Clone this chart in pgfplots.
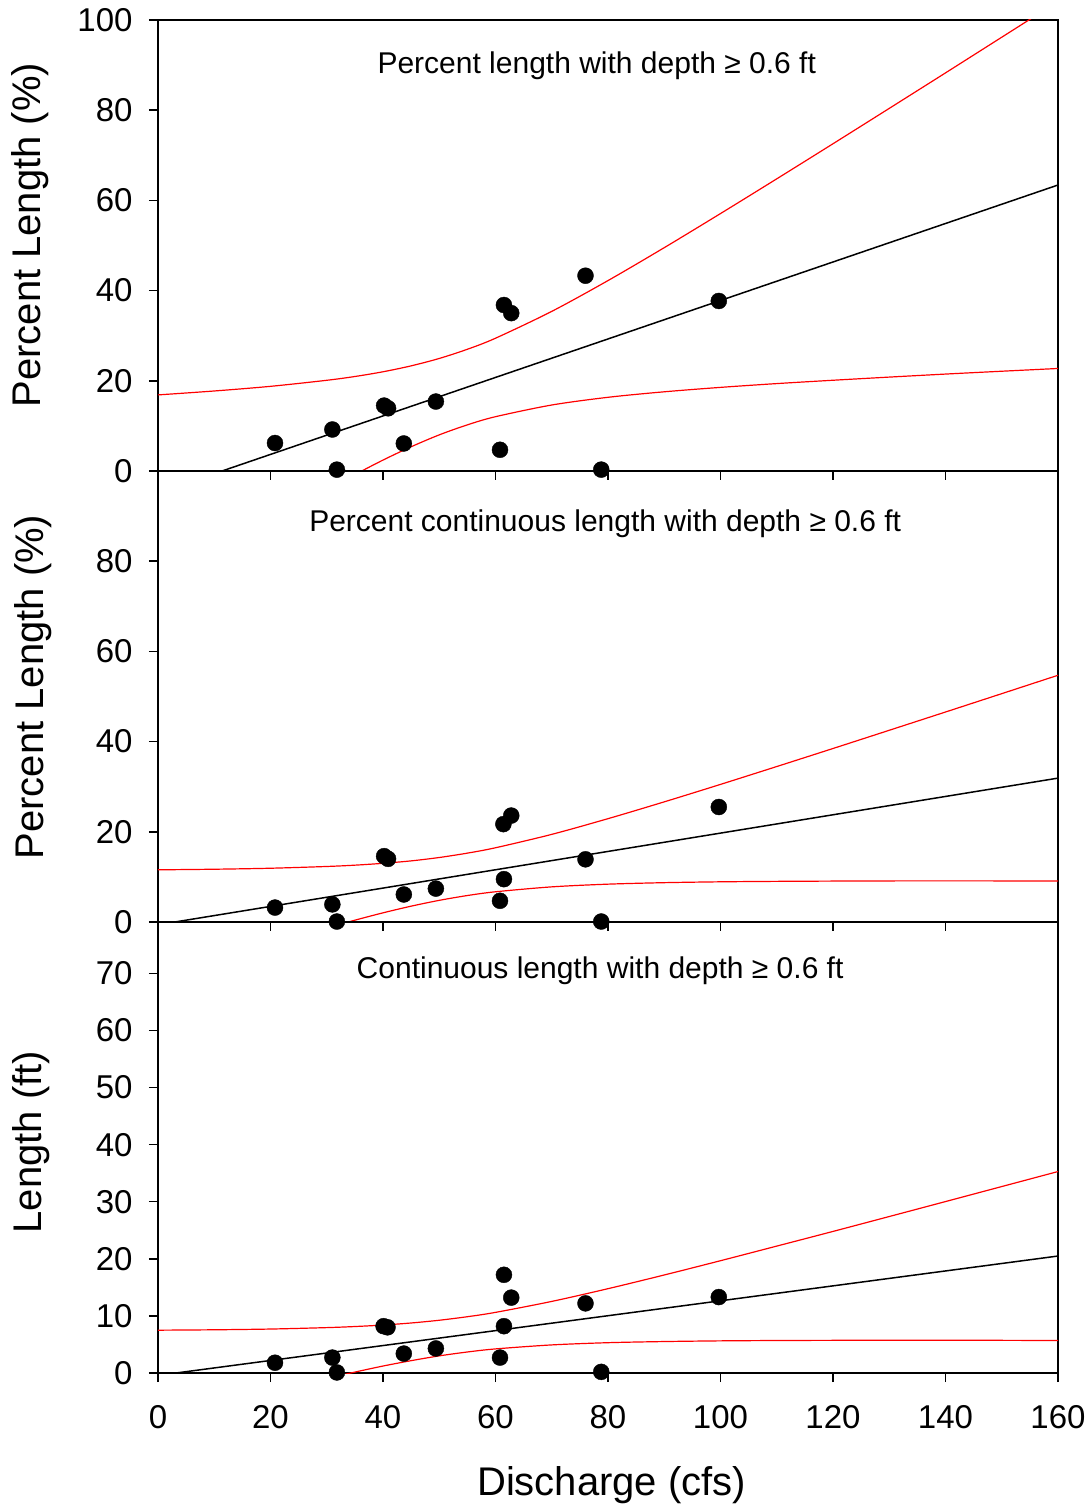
\documentclass[border=0pt]{standalone}
\usepackage{fontspec}
\setmainfont{Liberation Sans}
\usepackage{pgfplots}
\pgfplotsset{compat=1.18}
\pgfplotsset{panel/.style={
  scale only axis, width=900pt, height=451pt,
  xmin=0, xmax=160, xtick={0,20,...,160},
  axis line style={line width=1.6pt},
  tick style={line width=1.5pt, black},
  major tick length=9pt,
  tick align=outside, xtick pos=bottom, ytick pos=left,
  /pgf/number format/assume math mode=true,
  ticklabel style={font=\fontsize{33}{38}\selectfont},
  xticklabel style={yshift=-20pt},
  yticklabel style={xshift=-13pt},
  label style={font=\fontsize{40}{46}\selectfont},
  anchor=south west,
}}
\begin{document}
\begin{tikzpicture}
\useasboundingbox (-158pt,-135pt) rectangle (934pt,1373pt);
% ---------- panel 1
\begin{axis}[panel, at={(0pt,902pt)}, ymin=0, ymax=100, ytick={0,20,...,100}, xticklabels={},
  ylabel={Percent Length (\%)}, ylabel style={at={(rel axis cs:-0.142,0.523)}, anchor=center}]
\addplot[red, line width=1.2pt, smooth] coordinates {(0,16.87) (10,17.74) (20,18.77) (30,20.11) (35,20.95) (40,22.0) (45,23.31) (50,24.95) (55,26.99) (60,29.44) (70,35.39) (80,42.22) (90,49.52) (100,57.08) (110,64.78) (120,72.56) (130,80.40) (140,88.27) (150,96.18) (160,104.1)};
\addplot[red, line width=1.2pt, smooth] coordinates {(30,-4.23) (35,-0.81) (40,2.42) (45,5.37) (50,8.01) (55,10.23) (60,12.04) (70,14.63) (80,16.34) (90,17.56) (100,18.54) (110,19.38) (120,20.12) (130,20.82) (140,21.49) (150,22.12) (160,22.73)};
\addplot[black, line width=1.5pt] coordinates {(0,-4.86) (160,63.41)};
\addplot[only marks, mark=*, mark size=8pt, black] coordinates {(20.8,6.2) (31.0,9.2) (31.8,0.3) (40.2,14.5) (40.9,13.9) (43.7,6.1) (49.4,15.4) (60.8,4.7) (61.5,36.8) (62.8,35.0) (76.0,43.3) (78.8,0.3) (99.7,37.7)};
\node[font=\fontsize{30}{36}\selectfont] at (axis cs:78,89.8) {Percent length with depth ≥ 0.6 ft};
\end{axis}
% ---------- panel 2
\begin{axis}[panel, at={(0pt,451pt)}, ymin=0, ymax=100, ytick={0,20,...,80}, xticklabels={},
  ylabel={Percent Length (\%)}, ylabel style={at={(rel axis cs:-0.139,0.521)}, anchor=center}]
\addplot[red, line width=1.2pt, smooth] coordinates {(0,11.57) (10,11.70) (20,11.92) (30,12.31) (35,12.60) (40,13.01) (45,13.55) (50,14.30) (55,15.27) (60,16.46) (70,19.43) (80,22.91) (90,26.64) (100,30.51) (110,34.47) (120,38.47) (130,42.51) (140,46.56) (150,50.63) (160,54.71)};
\addplot[red, line width=1.2pt, smooth] coordinates {(30,-1.33) (35,0.40) (40,2.03) (45,3.51) (50,4.80) (55,5.87) (60,6.70) (70,7.79) (80,8.39) (90,8.72) (100,8.91) (110,9.01) (120,9.07) (130,9.11) (140,9.12) (150,9.11) (160,9.09)};
\addplot[black, line width=1.5pt] coordinates {(0,-0.61) (160,31.90)};
\addplot[only marks, mark=*, mark size=8pt, black] coordinates {(20.8,3.2) (31.0,3.9) (31.8,0.1) (40.2,14.6) (40.9,14.0) (43.7,6.1) (49.4,7.4) (60.8,4.7) (61.5,9.5) (61.4,21.7) (62.8,23.6) (76.0,13.9) (78.8,0.1) (99.7,25.5)};
\node[font=\fontsize{30}{36}\selectfont] at (axis cs:79.5,88.2) {Percent continuous length with depth ≥ 0.6 ft};
\end{axis}
% ---------- panel 3
\begin{axis}[panel, at={(0pt,0pt)}, ymin=0, ymax=79, ytick={0,10,...,70},
  ylabel={Length (ft)}, ylabel style={at={(rel axis cs:-0.141,0.512)}, anchor=center},
  xlabel={Discharge (cfs)}, xlabel style={at={(rel axis cs:0.504,-0.248)}, anchor=center}]
\addplot[red, line width=1.2pt, smooth] coordinates {(0,7.50) (10,7.57) (20,7.70) (30,7.95) (35,8.14) (40,8.40) (45,8.76) (50,9.24) (55,9.86) (60,10.62) (70,12.54) (80,14.77) (90,17.17) (100,19.67) (110,22.23) (120,24.80) (130,27.41) (140,30.03) (150,32.66) (160,35.29)};
\addplot[red, line width=1.2pt, smooth] coordinates {(30,-0.95) (35,0.16) (40,1.22) (45,2.16) (50,3.00) (55,3.68) (60,4.22) (70,4.92) (80,5.31) (90,5.51) (100,5.63) (110,5.69) (120,5.72) (130,5.73) (140,5.73) (150,5.72) (160,5.69)};
\addplot[black, line width=1.5pt] coordinates {(0,-0.42) (160,20.49)};
\addplot[only marks, mark=*, mark size=8pt, black] coordinates {(20.8,1.8) (31.0,2.7) (31.8,0.1) (40.1,8.2) (40.8,8.0) (43.7,3.4) (49.4,4.3) (60.8,2.7) (61.5,8.2) (61.5,17.2) (62.8,13.2) (76.0,12.2) (78.8,0.2) (99.7,13.3)};
\node[font=\fontsize{30}{36}\selectfont] at (axis cs:78.6,70.4) {Continuous length with depth ≥ 0.6 ft};
\end{axis}
\end{tikzpicture}
\end{document}
